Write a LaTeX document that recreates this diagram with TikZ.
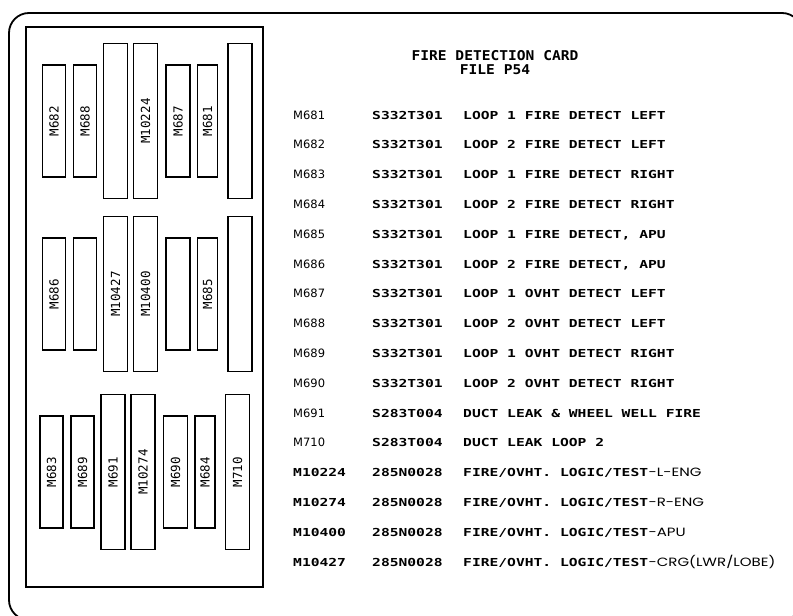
\documentclass[tikz,border=0pt]{standalone}
\usepackage{fontspec}
\newfontfamily\cardfont[FakeStretch=1.33]{DejaVu Sans Mono}
\newfontfamily\titlefont[FakeStretch=1.08]{DejaVu Sans Mono}
\newfontfamily\slotfont{DejaVu Sans Mono}
\newfontfamily\rowfont{DejaVu Sans}
\newfontfamily\tagfont[FakeStretch=1.25]{Poppins}
\begin{document}
\begin{tikzpicture}[x=1pt, y=-1pt,
  slot/.style={draw, line width=1.3pt, rotate=90, inner sep=0pt,
    font=\slotfont\fontsize{12.5}{14}\selectfont},
  cell/.style={anchor=base west, inner sep=0pt},
  idlite/.style={cell, font=\rowfont\fontsize{11.5}{13}\selectfont},
  idbold/.style={cell, font=\cardfont\bfseries\fontsize{11}{13}\selectfont},
  tag/.style={anchor=base west, inner sep=0pt, font=\tagfont\fontsize{12}{14}\selectfont},
  head/.style={anchor=base, inner sep=0pt, text height=9pt, text depth=0pt,
    font=\titlefont\bfseries\fontsize{13.5}{14}\selectfont}]
\useasboundingbox (0,0) rectangle (793,616);
\clip (0,0) rectangle (793,616);
% card outline and slot panel
\draw[line width=1.8pt, rounded corners=20pt] (9,13) rectangle (802,620);
\draw[line width=1.5pt] (26,27) rectangle (263,587);
% slots: 7 columns x 3 groups (top, mid, bot); tall ones are 155 high
\foreach \c/\cx/\w/\h/\la/\lb/\lc in {1/54/23/112/M682/M686/M683, 2/85/23/112/M688//M689,
    3/115.5/24/155//M10427/M691, 4/145.5/24/155/M10224/M10400/M10274,
    5/178/24/112/M687//M690, 6/207.5/20/112/M681/M685/M684, 7/240/24/155///M710} {
  \node[slot, minimum width=\h pt, minimum height=\w pt] (top-\c) at (\cx,121) {\la};
  \node[slot, minimum width=\h pt, minimum height=\w pt] (mid-\c) at (\cx,294) {\lb};
  \node[slot, minimum width=\h pt, minimum height=\w pt] (bot-\c) at (\cx-2.5,472) {\lc};
}
% heading
\node[head] (title) at (495,60.5) {FIRE DETECTION CARD};
\node[head] (file) at (495,74.5) {FILE P54};
% list of modules
\foreach \i/\m/\p/\d in {0/M681/S332T301/LOOP 1 FIRE DETECT LEFT, 1/M682/S332T301/LOOP 2 FIRE DETECT LEFT,
    2/M683/S332T301/LOOP 1 FIRE DETECT RIGHT, 3/M684/S332T301/LOOP 2 FIRE DETECT RIGHT,
    4/M685/S332T301/{LOOP 1 FIRE DETECT, APU}, 5/M686/S332T301/{LOOP 2 FIRE DETECT, APU},
    6/M687/S332T301/LOOP 1 OVHT DETECT LEFT, 7/M688/S332T301/LOOP 2 OVHT DETECT LEFT,
    8/M689/S332T301/LOOP 1 OVHT DETECT RIGHT, 9/M690/S332T301/LOOP 2 OVHT DETECT RIGHT,
    10/M691/S283T004/DUCT LEAK \& WHEEL WELL FIRE, 11/M710/S283T004/DUCT LEAK LOOP 2} {
  \node[idlite] (id-\i) at (293,119+\i*29.8) {\m};
  \node[idbold] (part-\i) at (372,119+\i*29.8) {\p};
  \node[idbold] (desc-\i) at (463,119+\i*29.8) {\d};
}
\foreach \i/\m/\s in {12/M10224/-L-ENG, 13/M10274/-R-ENG, 14/M10400/-APU, 15/M10427/{-CRG(LWR/LOBE)}} {
  \node[idbold] (id-\i) at (293,119+\i*29.8) {\m};
  \node[idbold] (part-\i) at (372,119+\i*29.8) {285N0028};
  \node[idbold] (desc-\i) at (463,119+\i*29.8) {FIRE/OVHT. LOGIC/TEST};
  \node[tag] (tag-\i) at (desc-\i.base east) {\s};
}
\end{tikzpicture}
\end{document}
